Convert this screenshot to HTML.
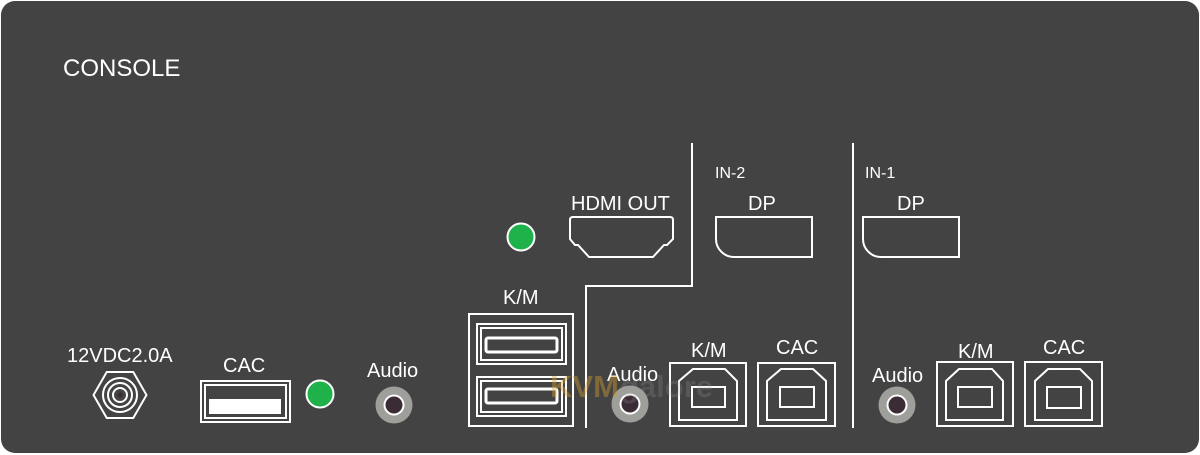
<!DOCTYPE html>
<html>
<head>
<meta charset="utf-8">
<style>
  html, body { margin: 0; padding: 0; background: #ffffff; }
  body { width: 1200px; height: 455px; overflow: hidden; }
  svg { display: block; }
  text { font-family: "Liberation Sans", Arial, sans-serif; fill: #ffffff; }
</style>
</head>
<body>
<svg width="1200" height="455" viewBox="0 0 1200 455" xmlns="http://www.w3.org/2000/svg">
  <!-- panel -->
  <rect x="1" y="1" width="1198" height="452" rx="14" ry="14" fill="#434343"/>

  <g fill="none" stroke="#ffffff" stroke-width="2">
    <!-- section divider lines -->
    <polyline points="692,143 692,286 586,286 586,428"/>
    <line x1="853" y1="143" x2="853" y2="428"/>

    <!-- power jack -->
    <polygon points="93.5,395 106.75,372 133.25,372 146.5,395 133.25,418 106.75,418"/>
    <circle cx="120" cy="395" r="17"/>
    <circle cx="120" cy="395" r="12"/>
    <circle cx="120" cy="395" r="7"/>

    <!-- CAC USB-A (console) -->
    <rect x="201" y="381" width="89" height="41"/>
    <rect x="205" y="385" width="81" height="33"/>

    <!-- dual USB-A K/M -->
    <rect x="469" y="314" width="104" height="112"/>
    <rect x="477" y="324" width="89" height="40"/>
    <rect x="481" y="328" width="81" height="32"/>
    <rect x="486" y="338" width="71" height="14" rx="2" stroke-width="3"/>
    <rect x="477" y="377" width="89" height="39"/>
    <rect x="481" y="381" width="81" height="31"/>
    <rect x="486" y="389" width="71" height="14" rx="2" stroke-width="3"/>

    <!-- HDMI OUT -->
    <path d="M573,217 H670 Q673,217 673,220 V239 L667,245 L664,245 L653,257 H589 L578,245 L575,245 L570,239 V220 Q570,217 573,217 Z"/>

    <!-- DP IN-2 -->
    <path d="M716,217 H812 V257 H734 A18,18 0 0 1 716,239 Z"/>
    <!-- DP IN-1 -->
    <path d="M863,217 H959 V257 H881 A18,18 0 0 1 863,239 Z"/>

    <!-- USB-B ports -->
    <g transform="translate(670,0)">
      <rect x="0" y="363" width="76" height="63"/>
      <path d="M23,369 H55 L67,381 V420 H9 V381 Z"/>
      <rect x="22" y="387" width="33" height="20"/>
    </g>
    <g transform="translate(758,0)">
      <rect x="0" y="363" width="77" height="63"/>
      <path d="M23,369 H55 L68,381 V420 H9 V381 Z"/>
      <rect x="22" y="387" width="34" height="20"/>
    </g>
    <g transform="translate(937,0)">
      <rect x="0" y="362" width="76" height="64"/>
      <path d="M22,369 H55 L66,381 V420 H9 V381 Z"/>
      <rect x="21" y="387" width="34" height="20"/>
    </g>
    <g transform="translate(1025,0)">
      <rect x="0" y="362" width="77" height="64"/>
      <path d="M23,369 H55 L67,381 V420 H10 V381 Z"/>
      <rect x="22" y="387" width="34" height="21"/>
    </g>
  </g>

  <!-- power jack center -->
  <circle cx="120" cy="395" r="2.5" fill="#3b2b35"/>

  <!-- CAC slot fill -->
  <rect x="209" y="399" width="72" height="15" fill="#ffffff"/>

  <!-- LEDs -->
  <circle cx="320" cy="394" r="13.5" fill="#1fb24a" stroke="#ffffff" stroke-width="2"/>
  <circle cx="521" cy="237" r="13.5" fill="#1fb24a" stroke="#ffffff" stroke-width="2"/>

  <!-- audio jacks -->
  <g>
    <circle cx="394" cy="405" r="18.5" fill="#9e9e9a"/>
    <circle cx="394" cy="405" r="10.5" fill="#ffffff"/>
    <circle cx="394" cy="405" r="8.5" fill="#3b2b35"/>
  </g>
  <g>
    <circle cx="630" cy="404" r="18.5" fill="#9e9e9a"/>
    <circle cx="630" cy="404" r="10.5" fill="#ffffff"/>
    <circle cx="630" cy="404" r="8.5" fill="#3b2b35"/>
  </g>
  <g>
    <circle cx="897" cy="405" r="18.5" fill="#9e9e9a"/>
    <circle cx="897" cy="405" r="10.5" fill="#ffffff"/>
    <circle cx="897" cy="405" r="8.5" fill="#3b2b35"/>
  </g>

  <!-- labels -->
  <text x="63" y="76" font-size="24">CONSOLE</text>
  <text x="67" y="362" font-size="20">12VDC2.0A</text>
  <text x="223" y="372" font-size="20">CAC</text>
  <text x="367" y="377" font-size="20">Audio</text>
  <text x="503" y="304" font-size="20">K/M</text>
  <text x="571" y="210" font-size="20">HDMI OUT</text>
  <text x="715" y="178" font-size="16">IN-2</text>
  <text x="748" y="210" font-size="20">DP</text>
  <text x="865" y="178" font-size="16">IN-1</text>
  <text x="897" y="210" font-size="20">DP</text>
  <text x="607" y="381" font-size="20">Audio</text>
  <text x="691" y="357" font-size="20">K/M</text>
  <text x="776" y="354" font-size="20">CAC</text>
  <text x="872" y="382" font-size="20">Audio</text>
  <text x="958" y="358" font-size="20">K/M</text>
  <text x="1043" y="354" font-size="20">CAC</text>

  <!-- watermark -->
  <text x="550" y="397" font-size="31" font-weight="bold" style="fill:rgba(214,160,50,0.42)">KVM</text>
  <text x="620" y="397" font-size="31" font-weight="bold" style="fill:rgba(160,160,160,0.22)">galore</text>
</svg>
</body>
</html>
